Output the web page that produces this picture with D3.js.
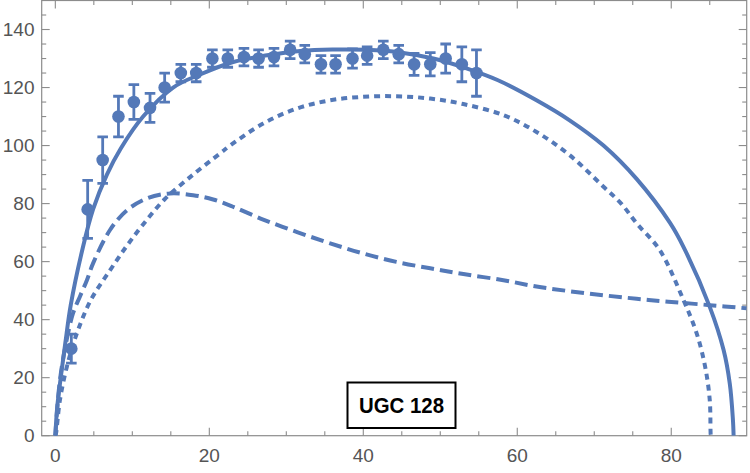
<!DOCTYPE html>
<html><head><meta charset="utf-8">
<script src="https://cdn.jsdelivr.net/npm/d3@7"></script>
<style>body{margin:0;background:#fff}svg{display:block}</style>
</head><body>
<svg id="c" width="750" height="473"></svg>
<script>
// ---- data ----
const obsR   = [2.08, 4.2, 6.15, 8.2, 10.2, 12.3, 14.2, 16.3, 18.3, 20.4, 22.4, 24.5, 26.4, 28.4, 30.5, 32.4, 34.5, 36.4, 38.6, 40.5, 42.6, 44.6, 46.6, 48.7, 50.7, 52.8, 54.7];
const obsV   = [30, 78, 95, 110, 115, 113, 120, 125, 125, 130, 130, 130.5, 130, 130.5, 133, 131.5, 128, 128, 130, 131, 133, 131.5, 128, 128, 130, 128, 125];
const obsErr = [5, 10, 8, 7, 6, 5, 5, 3, 3, 3, 3, 3, 3, 3, 3, 3, 3, 3, 3.3, 3, 3, 3, 3.8, 4, 5, 6, 8];

const totalR = [0, 0.25, 0.7, 1.3, 2.0, 3.5, 4.9, 6.7, 8.5, 11.4, 15.3, 18.8, 23.1, 27.5, 31.8, 36, 40.4, 44.8, 49.1, 53.4, 57.5, 62.5, 66.8, 71.2, 75.5, 79.8, 81.6, 85, 86.8, 87.6, 88, 88.1];
const totalV = [0, 10, 20, 32, 45, 64, 78, 90, 99, 110, 120, 124.5, 128.8, 131.1, 132.6, 133.1, 133, 132.1, 130, 126.6, 122.5, 115.6, 108.7, 100, 88.5, 73.5, 65, 44.4, 29.5, 18, 6, 0];

const dashR = [0, 0.2, 0.6, 1.3, 2.3, 3.2, 4.1, 4.9, 7.1, 9.3, 11.9, 14.9, 17.9, 20.5, 23, 27, 31.4, 35.7, 40, 44.3, 48.7, 53, 58.2, 62.5, 66.8, 71.2, 75.5, 79.6, 85, 89.8];
const dashV = [0, 7.7, 19.2, 30.7, 42.2, 48, 53.6, 59.4, 70.9, 77.7, 81.8, 83.5, 82.9, 81.4, 79, 74.5, 70.2, 66.3, 62.8, 59.9, 57.7, 55.7, 53.6, 51.4, 49.8, 48.4, 47.2, 46.2, 45, 43.9];

const dotR = [0, 0.1, 0.6, 1.5, 2.8, 4.6, 7.1, 9.3, 11.4, 14.2, 17.9, 21.4, 22.7, 27, 31.4, 35.7, 40, 44.3, 48.7, 53, 58.2, 62.5, 66.8, 71.2, 73.5, 75.5, 78.5, 81.6, 83.3, 84.4, 85, 85.1, 85.12];
const dotV = [0, 1, 12.3, 23.8, 35.3, 46.7, 57, 65.5, 72.8, 81.5, 90, 97.3, 100, 107.6, 112.8, 115.6, 116.8, 117, 116.2, 114.3, 110.5, 104.7, 96.7, 85.8, 80, 73.2, 64, 46.7, 35.3, 23.8, 12.3, 2, 0];

const xTicksMajor = [0, 20, 40, 60, 80];
const yTicksMajor = [0, 20, 40, 60, 80, 100, 120, 140];
const labelText = "UGC 128";

// ---- layout ----
const color = "#5479b8";
const svg = d3.select("#c");
const x = d3.scaleLinear().domain([-1.77, 89.8]).range([41.7, 746.7]);
const y = d3.scaleLinear().domain([0, 150]).range([435.7, 0.5]);

const L = x.range()[0], R = x.range()[1], B = y.range()[0], T = y.range()[1];

svg.append("defs").append("clipPath").attr("id","clip")
  .append("rect").attr("x",L).attr("y",T).attr("width",R-L).attr("height",B-T);

// frame + ticks
const axisColor = "#8c8c8c";
const fr = svg.append("g");
fr.append("rect").attr("x",L).attr("y",T).attr("width",R-L).attr("height",B-T)
  .attr("fill","none").attr("stroke",axisColor).attr("stroke-width",1.2);

const xMinor = d3.range(0, 90, 5);
const yMinor = d3.range(0, 150, 5);
xMinor.forEach(v => {
  const major = xTicksMajor.includes(v);
  const len = major ? 8 : 4.5;
  fr.append("line").attr("x1",x(v)).attr("x2",x(v)).attr("y1",B).attr("y2",B-len).attr("stroke",axisColor).attr("stroke-width",1.1);
  fr.append("line").attr("x1",x(v)).attr("x2",x(v)).attr("y1",T).attr("y2",T+len).attr("stroke",axisColor).attr("stroke-width",1.1);
});
yMinor.forEach(v => {
  const major = yTicksMajor.includes(v);
  const len = major ? 8 : 4.5;
  fr.append("line").attr("x1",L).attr("x2",L+len).attr("y1",y(v)).attr("y2",y(v)).attr("stroke",axisColor).attr("stroke-width",1.1);
  fr.append("line").attr("x1",R).attr("x2",R-len).attr("y1",y(v)).attr("y2",y(v)).attr("stroke",axisColor).attr("stroke-width",1.1);
});

const lblFont = "'Liberation Sans', Arial, sans-serif";
xTicksMajor.forEach(v => {
  svg.append("text").attr("x",x(v)).attr("y",461.5).attr("text-anchor","middle")
    .attr("font-family",lblFont).attr("font-size",19).attr("fill","#555").text(v);
});
yTicksMajor.forEach(v => {
  svg.append("text").attr("x",34.5).attr("y",y(v)).attr("dy","0.35em").attr("text-anchor","end")
    .attr("font-family",lblFont).attr("font-size",19).attr("fill","#555").text(v);
});

// curves
const g = svg.append("g").attr("clip-path","url(#clip)");
const line = d3.line().x(d=>x(d[0])).y(d=>y(d[1])).curve(d3.curveCatmullRom.alpha(0.5));

g.append("path").datum(dotR.map((r,i)=>[r,dotV[i]])).attr("d",line)
  .attr("fill","none").attr("stroke",color).attr("stroke-width",4).attr("stroke-dasharray","6,5");
g.append("path").datum(dashR.map((r,i)=>[r,dashV[i]])).attr("d",line)
  .attr("fill","none").attr("stroke",color).attr("stroke-width",4).attr("stroke-dasharray","13,6");
g.append("path").datum(totalR.map((r,i)=>[r,totalV[i]])).attr("d",line)
  .attr("fill","none").attr("stroke",color).attr("stroke-width",4);

// data with error bars
const pts = obsR.map((r,i)=>({r, v: obsV[i], e: obsErr[i]}));
const eg = g.append("g").attr("stroke",color).attr("stroke-width",2.8);
pts.forEach(p => {
  eg.append("line").attr("x1",x(p.r)).attr("x2",x(p.r)).attr("y1",y(p.v+p.e)).attr("y2",y(p.v-p.e));
  eg.append("line").attr("x1",x(p.r)-5.3).attr("x2",x(p.r)+5.3).attr("y1",y(p.v+p.e)).attr("y2",y(p.v+p.e));
  eg.append("line").attr("x1",x(p.r)-5.3).attr("x2",x(p.r)+5.3).attr("y1",y(p.v-p.e)).attr("y2",y(p.v-p.e));
});
g.append("g").selectAll("circle").data(pts).join("circle")
  .attr("cx",d=>x(d.r)).attr("cy",d=>y(d.v)).attr("r",6.3).attr("fill",color);

// label box
svg.append("rect").attr("x",347.5).attr("y",382.5).attr("width",108).attr("height",45.5)
  .attr("fill","#fff").attr("stroke","#000").attr("stroke-width",2);
svg.append("text").attr("x",401.5).attr("y",413.3).attr("text-anchor","middle")
  .attr("font-family",lblFont).attr("font-weight","bold").attr("font-size",22)
  .attr("textLength",85).attr("lengthAdjust","spacingAndGlyphs").attr("fill","#000").text(labelText);
</script>
</body></html>
